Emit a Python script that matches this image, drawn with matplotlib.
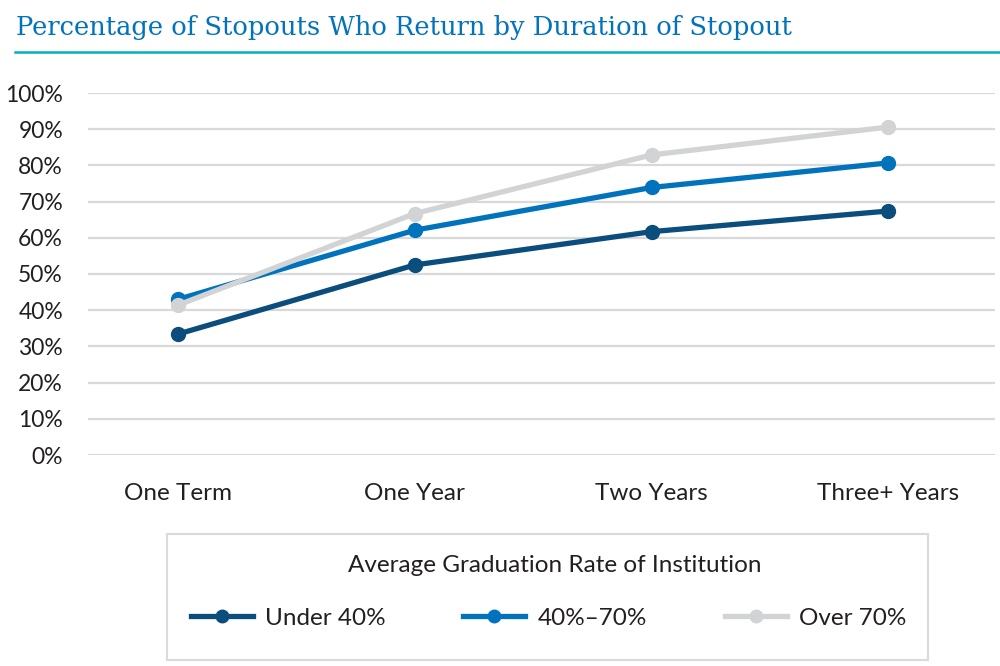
import matplotlib.pyplot as plt
from matplotlib.patches import Rectangle
from matplotlib.lines import Line2D

# data
durations = ['One Term', 'One Year', 'Two Years', 'Three+ Years']
under_40 = [33.4, 52.5, 61.7, 67.4]
mid_40_70 = [43.0, 62.1, 73.9, 80.7]
over_70 = [41.4, 66.7, 82.9, 90.6]
series_names = ['Under 40%', '40%\u201370%', 'Over 70%']
y_ticks = [0, 10, 20, 30, 40, 50, 60, 70, 80, 90, 100]

colors = ['#0B4D7C', '#0173BC', '#D2D3D5']
txt_color = '#231F20'
plt.rcParams['font.family'] = ['Lato', 'DejaVu Sans']

fig = plt.figure(figsize=(10, 6.66), dpi=100)
ax = fig.add_axes([0.088, 1 - 455 / 666, 0.907, (455 - 93) / 666])

x = list(range(len(durations)))
lines = []
for vals, c, name in zip([under_40, mid_40_70, over_70], colors, series_names):
    ln, = ax.plot(x, vals, color=c, lw=3.8, marker='o', ms=10, label=name,
                  solid_capstyle='round', zorder=3, clip_on=False)
    lines.append(ln)
# over 70 drawn on top of others like in the original
lines[2].set_zorder(4)

ax.set_ylim(0, 100)
ax.set_xlim(-0.38, 3.45)
ax.set_yticks(y_ticks)
ax.set_yticklabels([f'{t}%' for t in y_ticks])
ax.set_xticks(x)
ax.set_xticklabels(durations)
ax.grid(axis='y', color='#D9D9D9', lw=1.6, zorder=0)
ax.set_axisbelow(True)
for s in ax.spines.values():
    s.set_visible(False)
ax.tick_params(axis='x', length=0, labelsize=17.5, colors=txt_color, pad=20)
ax.tick_params(axis='y', length=0, labelsize=16.5, colors=txt_color, pad=18)

# title and rule
fig.text(0.016, 1 - 27 / 666, 'Percentage of Stopouts Who Return by Duration of Stopout',
         fontsize=18.5, color='#0173BC', va='center', ha='left',
         family=['DejaVu Serif'])
fig.add_artist(Line2D([0.015, 1.0], [1 - 52 / 666] * 2, color='#00B3B9', lw=1.8))

# legend box
fig.add_artist(Rectangle((0.167, 1 - 660 / 666), 0.761, 126 / 666, fill=False,
                         ec='#DADADA', lw=1.5))
fig.text(0.555, 1 - 566 / 666, 'Average Graduation Rate of Institution', ha='center',
         va='center', fontsize=17.5, color=txt_color)
handles = [Line2D([0], [0], color=c, lw=3.8, marker='o', ms=9) for c in colors]
leg = fig.legend(handles, series_names, loc='center left', bbox_to_anchor=(0.169, 1 - 618 / 666),
                 ncol=3, frameon=False, fontsize=17.5, handlelength=2.55, handletextpad=0.5,
                 columnspacing=3.2)
for t in leg.get_texts():
    t.set_color(txt_color)

fig.savefig('out.png', dpi=100)
